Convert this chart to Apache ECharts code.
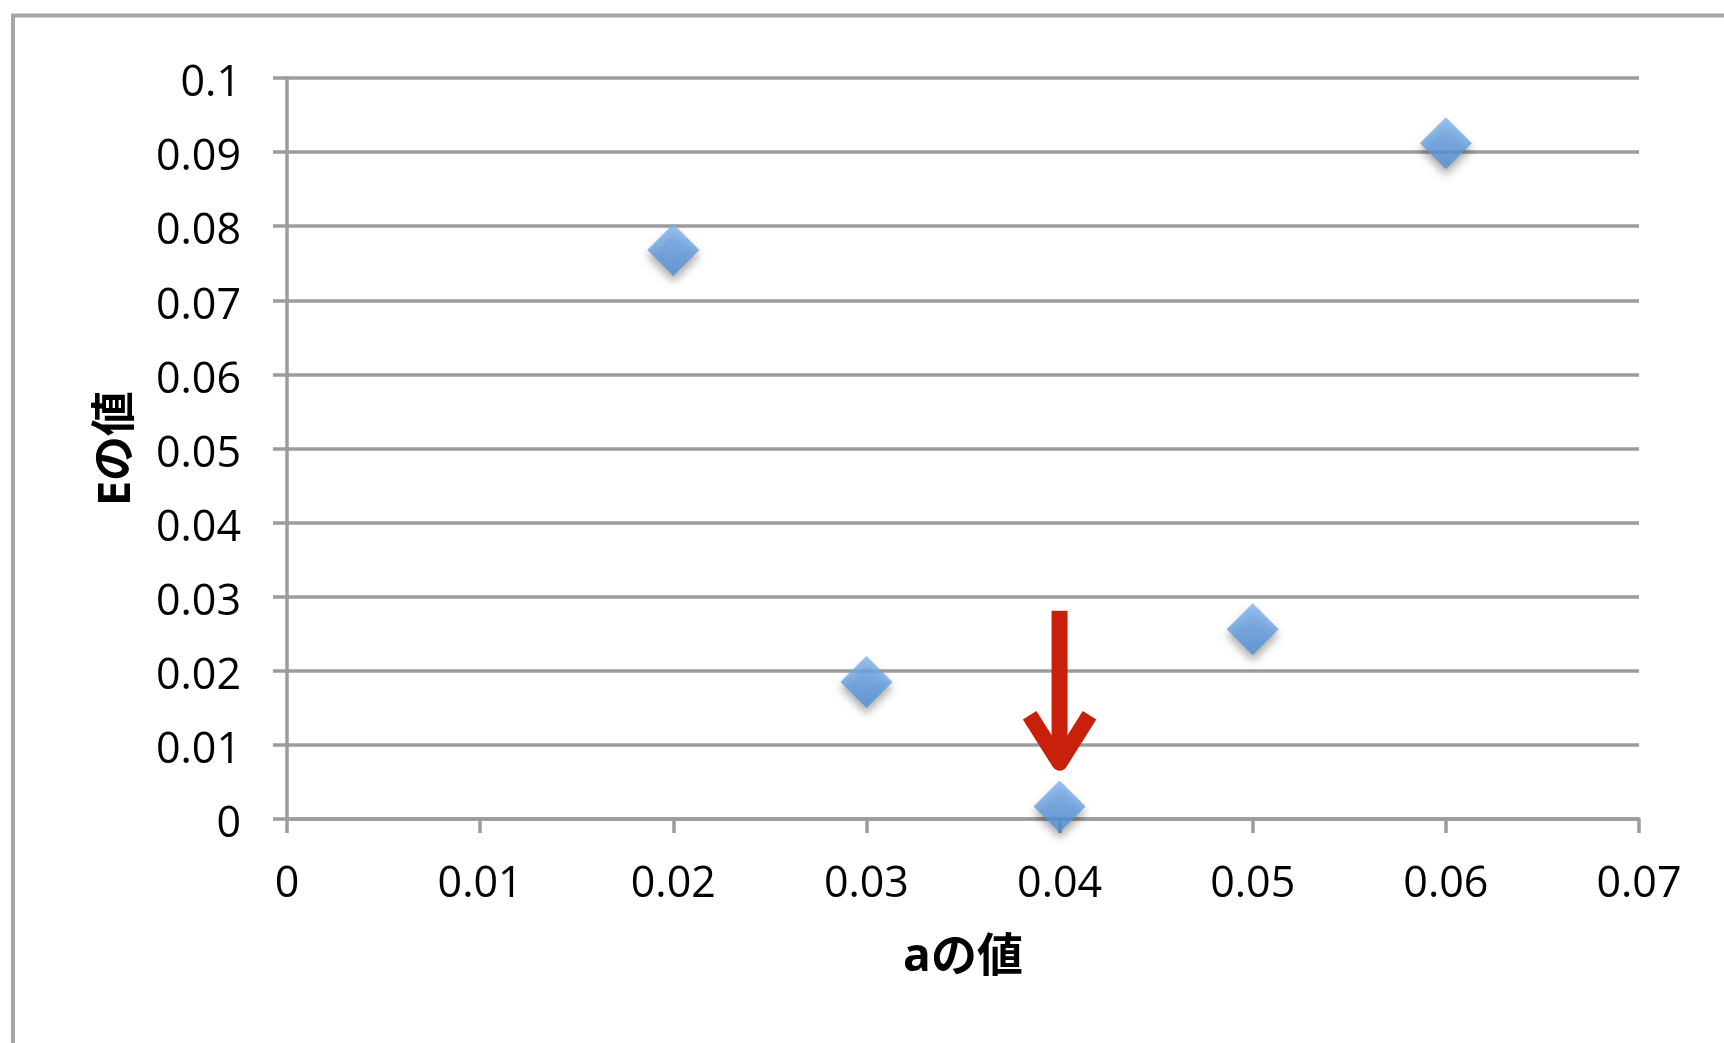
<!DOCTYPE html>
<html>
<head>
<meta charset="utf-8">
<script src="https://cdn.jsdelivr.net/npm/echarts@6/dist/echarts.min.js"></script>
<style>
html,body{margin:0;padding:0;background:#fff;}
#chart{width:1724px;height:1043px;}
</style>
</head>
<body>
<div id="chart"></div>
<script>
// Data
const aValues = [0.02, 0.03, 0.04, 0.05, 0.06];
const eValues = [0.0768, 0.0185, 0.0017, 0.0256, 0.0912];
const xAxisName = 'aの値';
const yAxisName = 'Eの値';
// Annotation arrow (in data units)
const arrowShaft = [[0.04, 0.0281], [0.04, 0.0078]];
const arrowHead = [[0.03845, 0.0140], [0.04, 0.0076], [0.04155, 0.0140]];

const points = aValues.map((a, i) => [a, eValues[i]]);
const gray = '#9c9c9c';
const font = '"Open Sans", "Noto Sans CJK JP", sans-serif';

const chart = echarts.init(document.getElementById('chart'));
chart.setOption({
  animation: false,
  backgroundColor: '#ffffff',
  graphic: [{
    type: 'rect',
    shape: { x: 13, y: 15.5, width: 1800, height: 1200 },
    style: { fill: 'none', stroke: '#a6a6a6', lineWidth: 4 },
    silent: true
  }],
  grid: { left: 287, right: 85, top: 78, bottom: 224 },
  xAxis: {
    type: 'value', min: 0, max: 0.07, interval: 0.01,
    name: xAxisName, nameLocation: 'middle', nameGap: 116,
    nameTextStyle: { fontSize: 46, fontWeight: 'bold', color: '#000', fontFamily: font },
    axisLine: { show: true, lineStyle: { color: gray, width: 3.5 } },
    axisTick: { show: true, length: 14, lineStyle: { color: gray, width: 3.5 } },
    axisLabel: { fontSize: 43, color: '#000', fontFamily: font, margin: 44 },
    splitLine: { show: false }
  },
  yAxis: {
    type: 'value', min: 0, max: 0.1, interval: 0.01,
    name: yAxisName, nameLocation: 'middle', nameGap: 147,
    nameTextStyle: { fontSize: 45, fontWeight: 'bold', color: '#000', fontFamily: font },
    axisLine: { show: true, lineStyle: { color: gray, width: 3.5 } },
    axisTick: { show: true, length: 14, lineStyle: { color: gray, width: 3.5 } },
    axisLabel: {
      margin: 46,
      formatter: v => '{t|' + v + '}',
      rich: { t: { fontSize: 43, color: '#000', fontFamily: font, padding: [12, 0, 0, 0] } }
    },
    splitLine: { show: true, lineStyle: { color: gray, width: 3.5 } }
  },
  series: [
    {
      type: 'scatter',
      data: points,
      symbol: 'diamond',
      symbolSize: [52, 52],
      z: 3,
      itemStyle: {
        color: new echarts.graphic.LinearGradient(0, 0, 0, 1, [
          { offset: 0, color: '#80b3ee' },
          { offset: 1, color: '#4d8edb' }
        ]),
        shadowColor: 'rgba(0,0,0,0.4)',
        shadowBlur: 9,
        shadowOffsetY: 6
      }
    },
    {
      type: 'line',
      data: arrowShaft,
      showSymbol: false,
      symbol: 'none',
      silent: true,
      z: 4,
      lineStyle: { color: '#c8200a', width: 16, cap: 'butt' }
    },
    {
      type: 'line',
      data: arrowHead,
      showSymbol: false,
      symbol: 'none',
      silent: true,
      z: 4,
      lineStyle: { color: '#c8200a', width: 16, cap: 'butt', join: 'round' }
    }
  ]
});
</script>
</body>
</html>
